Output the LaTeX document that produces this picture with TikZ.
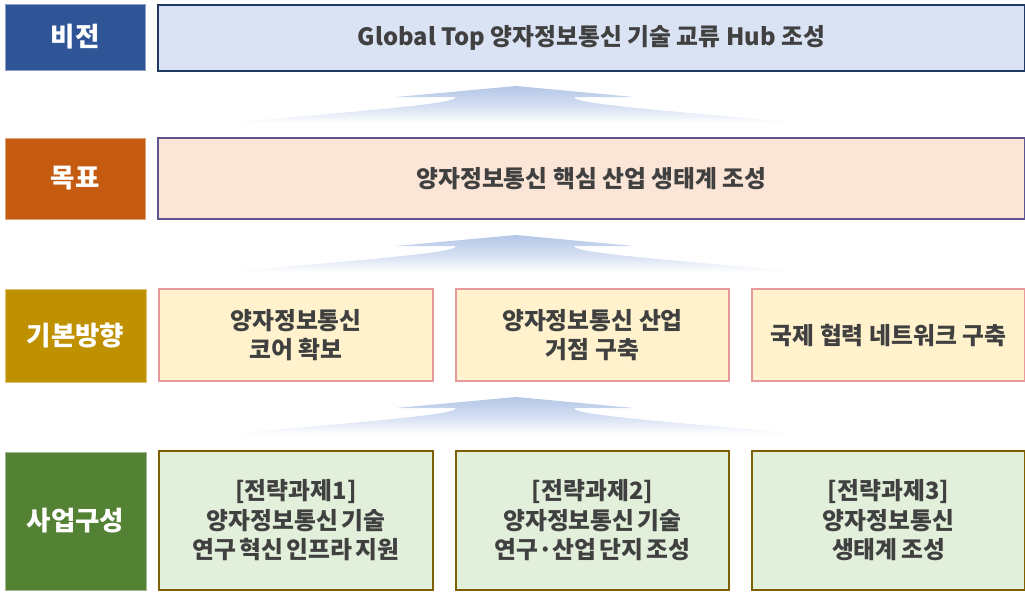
\documentclass[tikz,border=0pt]{standalone}
\usepackage{fontspec}
\setmainfont{Noto Sans CJK KR}
\definecolor{vblue}{HTML}{2F5597}
\definecolor{vfill}{HTML}{DAE3F3}
\definecolor{vline}{HTML}{1F3864}
\definecolor{gorange}{HTML}{C55A11}
\definecolor{gfill}{HTML}{FBE5D6}
\definecolor{gline}{HTML}{5E5490}
\definecolor{dgold}{HTML}{BF9000}
\definecolor{dfill}{HTML}{FFF2CC}
\definecolor{dline}{HTML}{E8999B}
\definecolor{bgreen}{HTML}{548235}
\definecolor{bfill}{HTML}{E2EFDA}
\definecolor{bline}{HTML}{7F6000}
\definecolor{arrblue}{HTML}{B4C7E7}
\definecolor{txt}{HTML}{404040}
\newcommand\tightsp{\spaceskip=3.4pt\relax}
\newcommand\flowarrow[1]{%
  \shade[top color=arrblue, bottom color=white, middle color=arrblue!60!white]
    (516,#1) -- (634,#1+11) -- (574,#1+11)
    .. controls (574,#1+18) and (660,#1+24) .. (802,#1+37)
    -- (228,#1+37)
    .. controls (370,#1+24) and (456,#1+18) .. (456,#1+11)
    -- (396,#1+11) -- cycle;}
\tikzset{
  x=1pt, y=-1pt,
  lab/.style={rectangle, inner sep=0pt, outer sep=0pt, text=white, font=\fontsize{26.5}{30}\selectfont\bfseries, line width=0.8pt},
  cbox/.style={rectangle, inner sep=0pt, outer sep=0pt, text=txt, align=center, font=\fontsize{23.8}{29.5}\selectfont\bfseries},
}
\begin{document}
\begin{tikzpicture}
\useasboundingbox (0,0) rectangle (1025,594);
\begin{scope}
\clip (0,0) rectangle (1025,594);
% arrows
\flowarrow{86}
\flowarrow{235}
\flowarrow{397}
% vision row
\node[lab, fill=vblue, draw=vblue!55!white, minimum width=140pt, minimum height=66pt] (vl) at (75,37) {비전};
\node[cbox, fill=vfill, draw=vline, line width=2pt, minimum width=867pt, minimum height=66pt] (vb) at (591.5,37.8) {Global Top 양자정보통신 기술 교류 Hub 조성};
% goal row
\node[lab, fill=gorange, draw=gorange!55!white, minimum width=140pt, minimum height=81pt] (gl) at (75,178.5) {목표};
\node[cbox, fill=gfill, draw=gline, line width=1.5pt, minimum width=867pt, minimum height=81pt] (gb) at (591.5,178.5) {양자정보통신 핵심 산업 생태계 조성};
% direction row
\node[lab, fill=dgold, draw=dgold!55!white, minimum width=141pt, minimum height=93pt] (dl) at (75.5,335.5) {기본방향};
\node[cbox, fill=dfill, draw=dline, line width=1.5pt, minimum width=274pt, minimum height=92pt] (d1) at (296,335) {양자정보통신\\코어 확보};
\node[cbox, fill=dfill, draw=dline, line width=1.5pt, minimum width=273pt, minimum height=92pt] (d2) at (592.5,335) {양자정보통신 산업\\거점 구축};
\node[cbox, fill=dfill, draw=dline, line width=1.5pt, minimum width=273pt, minimum height=92pt] (d3) at (888.5,335) {국제 협력 네트워크 구축};
% business row
\node[lab, fill=bgreen, draw=bgreen!55!white, minimum width=141pt, minimum height=138pt] (bl) at (75.5,521) {사업구성};
\node[cbox, fill=bfill, draw=bline, line width=1.5pt, minimum width=274pt, minimum height=139pt] (b1) at (296,520.5) {\tightsp[전략과제1]\\\tightsp 양자정보통신 기술\\\tightsp 연구 혁신 인프라 지원};
\node[cbox, fill=bfill, draw=bline, line width=1.5pt, minimum width=273pt, minimum height=139pt] (b2) at (592.5,520.5) {\tightsp[전략과제2]\\\tightsp 양자정보통신 기술\\\tightsp 연구·산업 단지 조성};
\node[cbox, fill=bfill, draw=bline, line width=1.5pt, minimum width=273pt, minimum height=139pt] (b3) at (888.5,520.5) {\tightsp[전략과제3]\\\tightsp 양자정보통신\\\tightsp 생태계 조성};
\end{scope}
\end{tikzpicture}
\end{document}
